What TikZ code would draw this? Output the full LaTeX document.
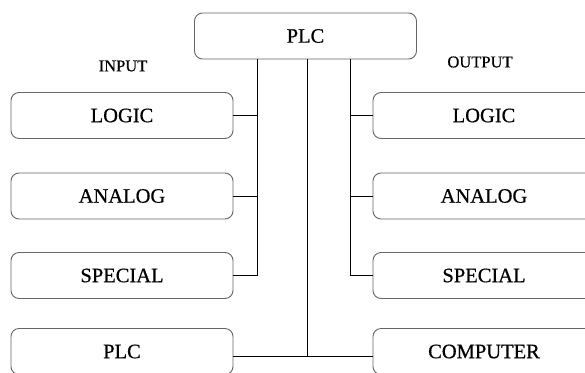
\documentclass[tikz,border=0pt]{standalone}
\usepackage{fontspec}
\setmainfont{Liberation Serif}
\newfontfamily\boxfont[FakeBold=0.6]{Liberation Serif}
\begin{document}
\begin{tikzpicture}[x=1pt,y=-1pt,
  box/.style={draw=black!60, line width=0.9pt, rounded corners=8pt, minimum width=222pt, minimum height=46pt, inner sep=0pt, font=\boxfont\fontsize{20.5}{24}\selectfont, text=black},
  lbl/.style={font=\boxfont\fontsize{16.5}{20}\selectfont, text=black, inner sep=0pt},
  wire/.style={draw=black, line width=1pt}]
\useasboundingbox (0,0) rectangle (585,372);
\clip (0,0) rectangle (585,372);
\fill[white] (0,0) rectangle (585,372);
\node[box] (top) at (305.5,36) {PLC};
\node[box] (llogic) at (122,115.5) {LOGIC};
\node[box] (lanalog) at (122,196) {ANALOG};
\node[box] (lspecial) at (122,275.5) {SPECIAL};
\node[box] (lplc) at (122,351.5) {PLC};
\node[box] (rlogic) at (484,115.5) {LOGIC};
\node[box] (ranalog) at (484,196) {ANALOG};
\node[box] (rspecial) at (484,275.5) {SPECIAL};
\node[box] (comp) at (484,351.5) {COMPUTER};
\node[lbl] (inp) at (123,66) {INPUT};
\node[lbl] (outp) at (480,62) {OUTPUT};
\coordinate (lx) at (257,0);
\coordinate (cx) at (307,0);
\coordinate (rx) at (350,0);
\coordinate (by) at (0,356);
% left bus
\draw[wire] (top.south -| lx) -- (lx |- lspecial.east) -- (lspecial.east);
\draw[wire] (llogic.east) -- (llogic.east -| lx);
\draw[wire] (lanalog.east) -- (lanalog.east -| lx);
% right bus
\draw[wire] (top.south -| rx) -- (rx |- rspecial.west) -- (rspecial.west);
\draw[wire] (rlogic.west) -- (rlogic.west -| rx);
\draw[wire] (ranalog.west) -- (ranalog.west -| rx);
% centre
\draw[wire] (top.south -| cx) -- (cx |- by);
\draw[wire] (lplc.east |- by) -- (comp.west |- by);
\end{tikzpicture}
\end{document}
